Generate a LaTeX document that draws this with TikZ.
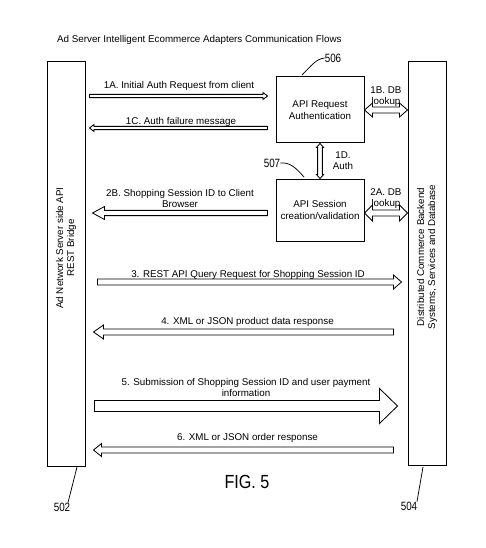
\documentclass[tikz,border=0pt]{standalone}
\usepackage{fontspec}
\setmainfont{Liberation Sans}
\usetikzlibrary{calc}
\tikzset{
  bar/.style={draw, line width=1pt, minimum width=38pt, inner sep=0pt},
  box/.style={draw, line width=1pt, minimum width=88pt, inner sep=0pt, align=center, font=\fontsize{9.8}{11.8}\selectfont},
  lbl/.style={font=\fontsize{9.8}{11}\selectfont, align=center, inner sep=0pt},
  num/.style={font=\fontsize{12}{13}\selectfont, inner sep=0pt},
  flow/.style={draw, line width=0.85pt, line join=miter, fill=white},
  leader/.style={draw, line width=0.75pt},
}
% hollow single arrow: #1 tail, #2 tip, #3 shaft half width, #4 head half width, #5 head length
\newcommand\hollowarrow[5]{%
  \coordinate (hah) at ($(#2)!#5pt!(#1)$);
  \draw[flow] ($(#1)!#3pt!90:(#2)$) -- ($(hah)!#3pt!90:(#2)$) -- ($(hah)!#4pt!90:(#2)$) -- (#2)
    -- ($(hah)!#4pt!-90:(#2)$) -- ($(hah)!#3pt!-90:(#2)$) -- ($(#1)!#3pt!-90:(#2)$) -- cycle;}
% hollow double arrow
\newcommand\hollowdarrow[5]{%
  \coordinate (hds) at ($(#1)!#5pt!(#2)$);
  \coordinate (hde) at ($(#2)!#5pt!(#1)$);
  \draw[flow] (#1) -- ($(hds)!#4pt!90:(#2)$) -- ($(hds)!#3pt!90:(#2)$) -- ($(hde)!#3pt!90:(#2)$)
    -- ($(hde)!#4pt!90:(#2)$) -- (#2) -- ($(hde)!#4pt!-90:(#2)$) -- ($(hde)!#3pt!-90:(#2)$)
    -- ($(hds)!#3pt!-90:(#2)$) -- ($(hds)!#4pt!-90:(#2)$) -- cycle;}
\begin{document}
\begin{tikzpicture}[x=1pt,y=-1pt]
\useasboundingbox (0,0) rectangle (486,548);
\fill[white] (0,0) rectangle (486,548);

\node[lbl, anchor=west] (title) at (57,40) {Ad Server Intelligent Ecommerce Adapters Communication Flows};

% bars
\node[bar, minimum height=404pt] (L) at (66,264) {};
\node[bar, minimum height=403pt] (R) at (427,263.5) {};
\node[lbl, rotate=90] (Ltext) at (66,248) {Ad Network Server side API\\REST Bridge};
\node[lbl, rotate=90] (Rtext) at (427,257) {Distributed Commerce Backend\\Systems, Services and Database};

% boxes
\node[box, minimum height=66pt] (Q) at (320,110) {API Request\\Authentication};
\node[box, minimum height=62pt] (S) at (320,210) {API Session\\creation/validation};

% reference numbers
\node[num] (n506) at (333,58) {\scalebox{0.82}[1]{506}};
\node[num] (n507) at (272,163) {\scalebox{0.82}[1]{507}};
\node[num] (n502) at (62,507) {\scalebox{0.82}[1]{502}};
\node[num] (n504) at (409,506) {\scalebox{0.82}[1]{504}};
\draw[leader] (302,75) .. controls (312,65) and (316,59) .. (n506.west);
\draw[leader] (n507.east) .. controls (290,162) and (296,168) .. (304,177);
\draw[leader] (77,467) -- (n502.north -| 68,0);
\draw[leader] (423,467) -- (n504.north -| 417,0);

% arrow end points
\coordinate (a1t) at ($(L.east|-0,96)+(4,0)$);
\coordinate (a1h) at ($(Q.west|-0,96)+(-8,0)$);
\coordinate (c1t) at ($(Q.west|-0,128)+(-8,0)$);
\coordinate (c1h) at ($(L.east|-0,128)+(4,0)$);
\coordinate (b2t) at ($(S.west|-0,213)+(-8,0)$);
\coordinate (b2h) at ($(L.east|-0,213)+(7,0)$);
\coordinate (b1s) at (Q.east|-0,110);
\coordinate (b1e) at (R.west|-0,110);
\coordinate (a2s) at (S.east|-0,213);
\coordinate (a2e) at (R.west|-0,213);
\coordinate (a3t) at ($(L.east|-0,282)+(12,0)$);
\coordinate (a3h) at ($(R.west|-0,282)+(-6,0)$);
\coordinate (a4t) at ($(R.west|-0,332)+(-14,0)$);
\coordinate (a4h) at ($(L.east|-0,332)+(8,0)$);
\coordinate (a5t) at ($(L.east|-0,406)+(9,0)$);
\coordinate (a5h) at ($(R.west|-0,406)+(-10,0)$);
\coordinate (a6t) at ($(R.west|-0,450)+(-14,0)$);
\coordinate (a6h) at ($(L.east|-0,450)+(8,0)$);

% arrows
\hollowarrow{a1t}{a1h}{1.6}{3.5}{4.5}
\hollowarrow{c1t}{c1h}{1.6}{3.5}{4.5}
\hollowarrow{b2t}{b2h}{2.6}{6.5}{12}
\hollowdarrow{b1s}{b1e}{3}{7}{8}
\hollowdarrow{a2s}{a2e}{3}{8}{8}
\hollowdarrow{Q.south}{S.north}{2.4}{3.6}{4}
\hollowarrow{a3t}{a3h}{3}{7}{8}
\hollowarrow{a4t}{a4h}{3}{7}{10}
\hollowarrow{a5t}{a5h}{5.5}{17.5}{18}
\hollowarrow{a6t}{a6h}{3}{6.5}{8}

% labels
\node[lbl] (l1A) at (179,86) {1A. Initial Auth Request from client};
\node[lbl] (l1C) at (181,121.5) {1C. Auth failure message};
\node[lbl] (l2B) at (180,198.5) {2B. Shopping Session ID to Client\\Browser};
\node[lbl] (l1B) at (386,96.5) {1B. DB\\lookup};
\node[lbl] (l2A) at (386,198.5) {2A. DB\\lookup};
\node[lbl] (l1D) at (343,160.5) {1D.\\Auth};
\node[lbl] (l3) at (248,274.5) {3. REST API Query Request for Shopping Session ID};
\node[lbl] (l4) at (247.5,322) {4. XML or JSON product data response};
\node[lbl] (l5) at (246,387) {5. Submission of Shopping Session ID and user payment\\information};
\node[lbl] (l6) at (247.5,437.5) {6. XML or JSON order response};

\node[inner sep=0pt, font=\fontsize{19}{20}\selectfont] (fig) at (247,482) {\scalebox{0.85}[1]{FIG. 5}};
\end{tikzpicture}
\end{document}
